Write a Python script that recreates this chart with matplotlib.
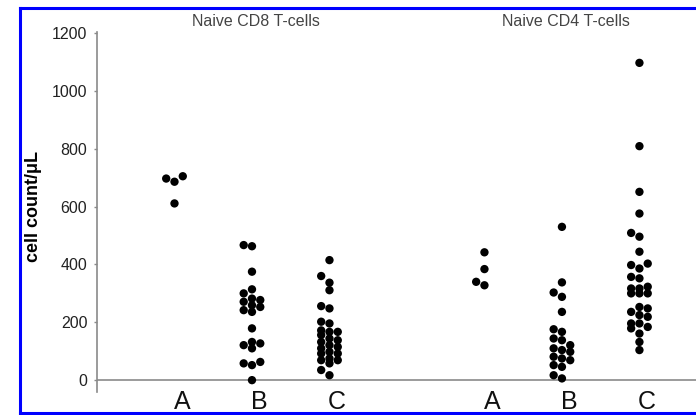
import matplotlib
matplotlib.use("Agg")
import matplotlib.pyplot as plt
from matplotlib.lines import Line2D
import numpy as np

plt.rcParams['font.family'] = ['Liberation Sans', 'DejaVu Sans']

# cell counts per group (cells/uL)
cd8_a = [686, 705, 697, 611]
cd8_b = [467, 463, 375, 314, 300, 282, 277, 271, 259, 253, 242, 236, 179,
         132, 127, 121, 110, 63, 58, 52, 0]
cd8_c = [415, 360, 337, 311, 256, 248, 202, 196, 172, 167, 167, 156, 144,
         138, 132, 121, 115, 110, 98, 92, 92, 75, 69, 69, 58, 35, 17]
cd4_a = [442, 384, 340, 328]
cd4_b = [530, 338, 303, 288, 236, 176, 167, 144, 138, 121, 110, 104, 98,
         81, 75, 69, 52, 46, 17, 6]
cd4_c = [1097, 809, 651, 576, 509, 496, 444, 403, 398, 386, 357, 352, 323,
         317, 317, 300, 300, 300, 253, 248, 236, 225, 219, 196, 196, 184,
         179, 161, 132, 104]

groups = [cd8_a, cd8_b, cd8_c, cd4_a, cd4_b, cd4_c]
group_labels = ['A', 'B', 'C', 'A', 'B', 'C']
group_pos = [1, 2, 3, 5, 6, 7]
panel_titles = ['Naive CD8 T-cells', 'Naive CD4 T-cells']
panel_centers = [2, 6]
y_ticks = [0, 200, 400, 600, 800, 1000, 1200]


def swarm_columns(vals, ax, min_gap=7.0):
    # simple deterministic swarm: put each point in the centre column,
    # or the left/right column if it would sit on top of another point
    ys = ax.transData.transform(np.column_stack([np.zeros(len(vals)), vals]))[:, 1]
    cols = {0: [], -1: [], 1: []}
    out = np.zeros(len(vals))
    for i in np.argsort(ys):
        def gap(c):
            return min([abs(ys[i] - y) for y in cols[c]], default=1e9)
        pick = None
        for c in (0, -1, 1):
            if gap(c) >= min_gap:
                pick = c
                break
        if pick is None:
            pick = max((0, -1, 1), key=gap)
        cols[pick].append(ys[i])
        out[i] = pick
    return out


fig = plt.figure(figsize=(6.96, 4.15), dpi=100)
ax = fig.add_axes([97 / 696, 0.0561, 1 - 97 / 696, 0.8677])
ax.set_xlim(0, 7.73)
ax.set_ylim(-40, 1205)

grey = '#8a8a8a'
step = 0.107  # column spacing of the swarm, in x units

for pos, vals in zip(group_pos, groups):
    cols = swarm_columns(vals, ax)
    ax.scatter(pos + cols * step, vals, s=36, color='black',
               edgecolors='none', zorder=3)

ax.axhline(0, color=grey, lw=1.2, zorder=1)

for s in ['top', 'right', 'bottom']:
    ax.spines[s].set_visible(False)
ax.spines['left'].set_color(grey)
ax.spines['left'].set_linewidth(1.2)

ax.set_yticks(y_ticks)
ax.tick_params(axis='y', direction='out', length=2.5, width=1, color=grey,
               pad=4.5, labelsize=11.5, labelcolor='#222222')
ax.set_xticks([])

# big category letters sitting on the bottom frame line
for pos, lab in zip(group_pos, group_labels):
    ax.text(pos + 0.1, -0.049, lab, transform=ax.get_xaxis_transform(),
            ha='center', va='baseline', fontsize=18, color='#111111')

for xc, t in zip(panel_centers, panel_titles):
    ax.text(xc + 0.05, 1.029, t, transform=ax.get_xaxis_transform(),
            ha='center', va='center', fontsize=11.5, color='#444444')

fig.text(33 / 696, 1 - 206 / 415, 'cell count/\u03bcL', rotation=90,
         ha='center', va='center', fontsize=13, fontweight='bold')

# blue frame on top, left and bottom
blue = '#0000ff'
fig.add_artist(Line2D([20 / 696, 1], [1 - 8 / 415, 1 - 8 / 415],
                      color=blue, lw=2.2, transform=fig.transFigure))
fig.add_artist(Line2D([20 / 696, 20 / 696], [1 - 8 / 415, 1 - 413 / 415],
                      color=blue, lw=2.2, transform=fig.transFigure))
fig.add_artist(Line2D([20 / 696, 1], [1 - 413 / 415, 1 - 413 / 415],
                      color=blue, lw=2.2, transform=fig.transFigure))

fig.savefig('out.png', dpi=100)
